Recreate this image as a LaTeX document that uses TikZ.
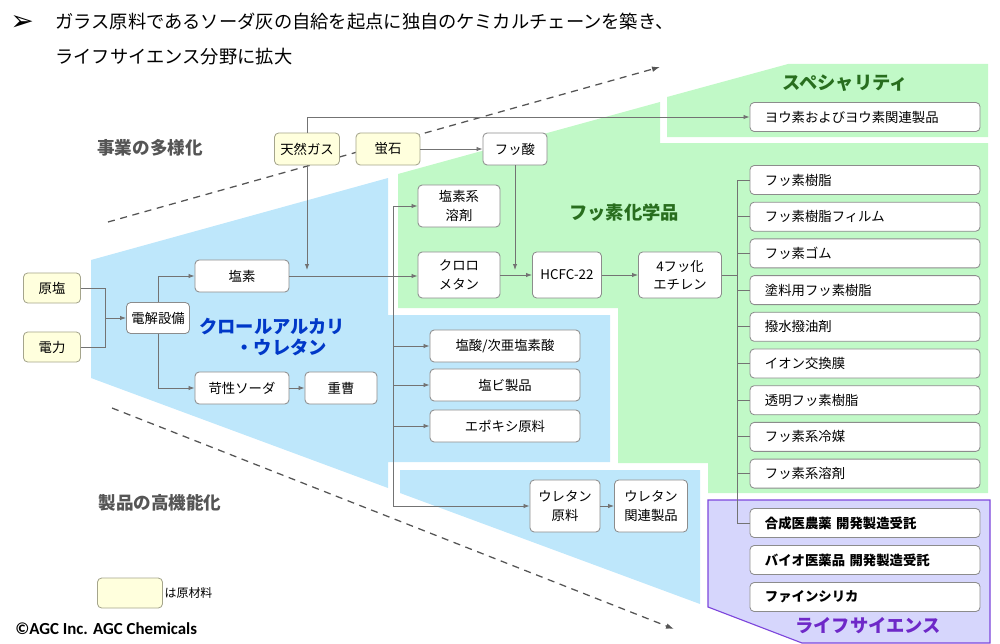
\documentclass[tikz,border=0pt]{standalone}
\usepackage{fontspec}
\setmainfont{Noto Sans CJK JP}
\newfontfamily\symfont{DejaVu Sans}
\newfontfamily\creditfont{Carlito}
\usetikzlibrary{arrows.meta,calc,positioning}
\definecolor{chlorblue}{RGB}{190,231,251}
\definecolor{fluorgreen}{RGB}{193,249,199}
\definecolor{lifefill}{RGB}{214,214,252}
\definecolor{lifeline}{RGB}{125,70,220}
\definecolor{rawfill}{RGB}{255,255,221}
\definecolor{rawline}{RGB}{165,165,140}
\definecolor{boxline}{RGB}{140,140,140}
\definecolor{wiregray}{RGB}{115,115,115}
\definecolor{chlortext}{RGB}{0,56,200}
\definecolor{fluortext}{RGB}{40,110,30}
\definecolor{lifetext}{RGB}{110,40,200}
\definecolor{headgray}{RGB}{85,85,85}
\newcommand\boxfont{\fontsize{9.5}{13}\selectfont}
\tikzset{
  wire/.style={draw=wiregray,line width=0.6pt},
  flow/.style={wire,-{Latex[length=1.5mm,width=1.1mm]}},
  trend/.style={draw=headgray,line width=0.9pt,dashed,dash pattern=on 5pt off 4pt,
                -{Latex[length=2mm,width=1.4mm]}},
  unit/.style={draw=boxline,fill=white,line width=0.6pt,rounded corners=3pt,
               inner sep=1pt,align=center,font=\boxfont},
  raw/.style={unit,draw=rawline,fill=rawfill},
  product/.style={unit,minimum width=5.75cm,text width=5.0cm,inner xsep=0.375cm,
                  minimum height=0.725cm,align=left},
  lifeproduct/.style={product,font=\boxfont\bfseries},
  area/.style={font=\fontsize{13}{15.5}\selectfont\bfseries},
  trendlab/.style={font=\fontsize{12.5}{15}\selectfont\bfseries,text=headgray},
}
\begin{document}
\begin{tikzpicture}[x=0.025cm,y=-0.025cm]
  \path[use as bounding box] (0,0) rectangle (1000,644);

  \fill[chlorblue] (91,260) -- (388,178) -- (388,315) -- (610,315) -- (610,462)
    -- (388,462) -- (388,488) -- (91,378) -- cycle;
  \fill[chlorblue] (400,470) -- (700,470) -- (700,604) -- (400,493) -- cycle;
  \fill[fluorgreen] (398,174) -- (660,102) -- (660,143) -- (988,143) -- (988,493)
    -- (708,493) -- (708,463) -- (618,463) -- (618,308) -- (398,308) -- cycle;
  \fill[fluorgreen] (667,97) -- (788,64) -- (988,64) -- (988,137) -- (667,137) -- cycle;
  \filldraw[fill=lifefill,draw=lifeline,line width=0.8pt] (708,500) -- (990,500)
    -- (990,643) -- (802,643) -- (708,607) -- cycle;

  \node[anchor=west,font=\symfont\bfseries\fontsize{20}{22}\selectfont,inner sep=0pt] (bullet) at (10,23) {➢};
  \node[anchor=west,font=\fontsize{13}{15}\selectfont,inner sep=0pt] (title1) at (55,22)
    {ガラス原料であるソーダ灰の自給を起点に独自のケミカルチェーンを築き、};
  \node[anchor=west,font=\fontsize{13}{15}\selectfont,inner sep=0pt] (title2) at (55,57)
    {ライフサイエンス分野に拡大};

  \coordinate (upA) at (108,222);
  \coordinate (upB) at (660,67);
  \coordinate (downA) at (112,408);
  \coordinate (downB) at (674,629);
  \draw[trend] (upA) -- (upB);
  \draw[trend] (downA) -- (downB);

  \node[trendlab] (diverse) at (150,148) {事業の多様化};
  \node[trendlab] (advance) at (160,503) {製品の高機能化};

  \node[area,text=chlortext,align=center] (chlorlab) at (272,337)
    {クロールアルカリ\\\hspace*{1em}・ウレタン};
  \node[area,text=fluortext] (fluorlab) at (624,213) {フッ素化学品};
  \node[area,text=fluortext] (speclab) at (845,83) {スペシャリティ};
  \node[area,text=lifetext] (lifelab) at (868,626) {ライフサイエンス};

  \node[raw,minimum width=1.425cm,minimum height=0.75cm] (salt) at (52,288) {原塩};
  \node[raw,minimum width=1.425cm,minimum height=0.75cm] (power) at (52,347) {電力};
  \node[unit,minimum width=1.575cm,minimum height=0.775cm] (cell) at (158,318) {電解設備};
  \node[unit,minimum width=2.35cm,minimum height=0.8cm] (chlorine) at (242,276) {塩素};
  \node[unit,minimum width=2.35cm,minimum height=0.8cm] (soda) at (242,388) {苛性ソーダ};
  \node[unit,minimum width=1.8cm,minimum height=0.8cm] (bicarb) at (341,388) {重曹};

  \node[raw,minimum width=1.625cm,minimum height=0.8cm] (gas) at (307,149) {天然ガス};
  \node[raw,minimum width=1.6cm,minimum height=0.8cm] (spar) at (388,149) {蛍石};
  \node[unit,minimum width=1.6cm,minimum height=0.8cm] (hf) at (515,149) {フッ酸};

  \node[unit,minimum width=2.05cm,minimum height=1.05cm] (solvent) at (459,206) {塩素系\\溶剤};
  \node[unit,minimum width=2.05cm,minimum height=1.15cm] (methane) at (459,275) {クロロ\\メタン};
  \node[unit,minimum width=1.725cm,minimum height=1.15cm] (hcfc) at (567,275) {HCFC-22};
  \node[unit,minimum width=2.075cm,minimum height=1.15cm] (tfe) at (680,275) {4フッ化\\エチレン};

  \node[unit,minimum width=3.75cm,minimum height=0.8cm] (acid) at (505,346) {塩酸/次亜塩素酸};
  \node[unit,minimum width=3.75cm,minimum height=0.8cm] (pvc) at (505,385) {塩ビ製品};
  \node[unit,minimum width=3.75cm,minimum height=0.8cm] (epoxy) at (505,426) {エポキシ原料};
  \node[unit,minimum width=1.75cm,minimum height=1.3cm] (urethane) at (565,506) {ウレタン\\原料};
  \node[unit,minimum width=1.825cm,minimum height=1.3cm] (urethanep) at (651,506) {ウレタン\\関連製品};

  \node[product] (iodine) at (865,117) {ヨウ素およびヨウ素関連製品};
  \node[product] (f1) at (865,180.0) {フッ素樹脂};
  \node[product] (f2) at (865,216.7) {フッ素樹脂フィルム};
  \node[product] (f3) at (865,253.4) {フッ素ゴム};
  \node[product] (f4) at (865,290.1) {塗料用フッ素樹脂};
  \node[product] (f5) at (865,326.8) {撥水撥油剤};
  \node[product] (f6) at (865,363.5) {イオン交換膜};
  \node[product] (f7) at (865,400.2) {透明フッ素樹脂};
  \node[product] (f8) at (865,436.9) {フッ素系冷媒};
  \node[product] (f9) at (865,473.6) {フッ素系溶剤};
  \node[lifeproduct] (l1) at (865,523) {合成医農薬 開発製造受託};
  \node[lifeproduct] (l2) at (865,560) {バイオ医薬品 開発製造受託};
  \node[lifeproduct] (l3) at (865,597) {ファインシリカ};

  \coordinate (feed) at (105,318);
  \draw[wire] (salt.east) -| (feed);
  \draw[wire] (power.east) -| (feed);
  \draw[flow] (feed) -- (cell.west);
  \draw[flow] (cell.north) |- (chlorine.west);
  \draw[flow] (cell.south) |- (soda.west);
  \draw[flow] (soda) -- (bicarb);

  \coordinate (gasdrop) at (307,270);
  \draw[flow] (gas.south) -- (gasdrop);
  \draw[flow] (gas.north) |- (iodine.west);
  \draw[flow] (spar) -- (hf);
  \coordinate (hfdrop) at (515,270);
  \draw[flow] (hf.south) -- (hfdrop);

  \draw[flow] (chlorine.east) -- (chlorine.east -| methane.west);
  \draw[flow] (methane) -- (hcfc);
  \draw[flow] (hcfc) -- (tfe);

  \coordinate (chlorbus) at (393,276);
  \draw[wire] (chlorbus |- solvent.west) -- (chlorbus |- urethane.west);
  \foreach \n in {solvent,acid,pvc,epoxy,urethane}
    \draw[flow] (chlorbus |- \n.west) -- (\n.west);
  \draw[flow] (urethane) -- (urethanep);

  \coordinate (fluorbus) at (737,275);
  \draw[wire] (tfe.east) -- (fluorbus);
  \draw[wire] (fluorbus |- f1.west) -- (fluorbus |- l1.west);
  \foreach \n in {f1,f2,f3,f4,f5,f6,f7,f8,f9,l1}
    \draw[wire] (fluorbus |- \n.west) -- (\n.west);

  \node[raw,minimum width=1.625cm,minimum height=0.75cm] (legend) at (130,593) {};
  \node[anchor=west,font=\fontsize{8.5}{10}\selectfont,inner sep=1pt] (legendtext) at (legend.east) {は原材料};
  \node[anchor=west,font=\creditfont\bfseries\fontsize{12}{13}\selectfont,inner sep=0pt] (credit) at (15,629)
    {©AGC Inc. AGC Chemicals};
\end{tikzpicture}
\end{document}
